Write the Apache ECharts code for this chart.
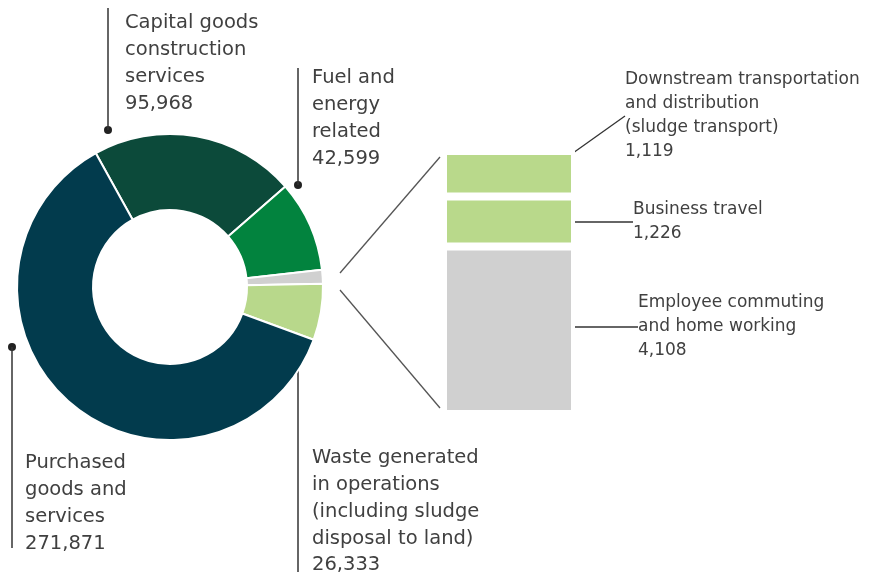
<!DOCTYPE html>
<html><head><meta charset="utf-8">
<script src="https://cdn.jsdelivr.net/npm/echarts@6/dist/echarts.min.js"></script>
<style>html,body{margin:0;padding:0;background:#fff}#c{width:873px;height:579px}</style>
</head><body><div id="c"></div>
<script>
// ---- data ----
const pieCategories = [
  'Capital goods\nconstruction\nservices',
  'Fuel and\nenergy\nrelated',
  'Other (breakdown on right)',
  'Waste generated\nin operations\n(including sludge\ndisposal to land)',
  'Purchased\ngoods and\nservices'
];
const pieValues = [95968, 42599, 6453, 26333, 271871];

const barCategories = [
  'Employee commuting\nand home working',
  'Business travel',
  'Downstream transportation\nand distribution\n(sludge transport)'
];
const barValues = [4108, 1226, 1119];

// ---- styles / layout ----
const pieColors = ['#0C4A3A', '#02833E', '#D0D0D0', '#B8D88B', '#023B4D'];
const barColors = ['#D0D0D0', '#B9D98B', '#B9D98B'];
const FONT = 'DejaVu Sans';
const TXT = '#404040';
const LINE = '#333333';
const CX = 170, CY = 287, R_IN = 77, R_OUT = 153;

// label placement: text x/y, leader line x, y from (dot) -> y to
const pieLab = {
  0: {tx: 125, ty: 10, lx: 108, y0: 130, y1: 8},
  1: {tx: 312, ty: 65, lx: 298, y0: 185, y1: 68},
  3: {tx: 312, ty: 445, lx: 298, y0: 325, y1: 572},
  4: {tx: 25, ty: 450, lx: 12, y0: 347, y1: 548}
};
const barLab = {
  2: {tx: 625, ty: 68, pts: [[573, 175], [611, 117], [620, 117]]},
  1: {tx: 633, ty: 198, pts: [[573, 221], [600, 221], [627, 221]]},
  0: {tx: 638, ty: 291, pts: [[573, 328], [600, 328], [632, 328]]}
};

const fmt = v => v.toLocaleString('en-US');
const barTotal = barValues.reduce((a, b) => a + b, 0);

const chart = echarts.init(document.getElementById('c'), null, {renderer: 'canvas'});

const barSeries = barValues.map((v, i) => ({
  type: 'bar',
  name: barCategories[i],
  stack: 'other',
  barWidth: 132,
  data: [v],
  silent: true,
  itemStyle: {color: barColors[i], borderColor: '#fff', borderWidth: 4},
  label: {
    show: true, position: 'right', overflow: 'none',
    formatter: () => barCategories[i] + '\n' + fmt(v),
    fontFamily: FONT, fontSize: 17, lineHeight: 24, color: TXT
  },
  labelLine: {show: true, lineStyle: {color: LINE, width: 1.3}},
  labelLayout: function () {
    const L = barLab[i];
    return {x: L.tx, y: L.ty, align: 'left', verticalAlign: 'top', labelLinePoints: L.pts};
  }
}));

chart.setOption({
  animation: false,
  backgroundColor: '#fff',
  grid: {left: 443, width: 132, top: 151, height: 263},
  xAxis: {type: 'category', data: ['Other'], show: false},
  yAxis: {type: 'value', min: 0, max: barTotal, show: false},
  series: [
    {
      type: 'pie',
      center: [CX, CY],
      radius: [R_IN, R_OUT],
      startAngle: 119,
      clockwise: true,
      silent: true,
      itemStyle: {borderColor: '#fff', borderWidth: 2},
      data: pieValues.map((v, i) => ({
        name: pieCategories[i], value: v,
        itemStyle: {color: pieColors[i]},
        label: {show: i !== 2},
        labelLine: {show: i !== 2}
      })),
      label: {
        show: true, position: 'outside', overflow: 'none', width: 300,
        formatter: p => p.name + '\n' + fmt(p.value),
        fontFamily: FONT, fontSize: 19.5, lineHeight: 26.7, color: TXT
      },
      labelLine: {show: true, lineStyle: {color: LINE, width: 1.5}},
      labelLayout: function (p) {
        const L = pieLab[p.dataIndex];
        if (!L) return {};
        return {x: L.tx, y: L.ty, align: 'left', verticalAlign: 'top',
          labelLinePoints: [[L.lx, L.y0], [L.lx, (L.y0 + L.y1) / 2], [L.lx, L.y1]]};
      }
    }
  ].concat(barSeries)
});

// connectors and dots
const topPx = chart.convertToPixel({gridIndex: 0}, [0, barTotal]);
const botPx = chart.convertToPixel({gridIndex: 0}, [0, 0]);
const barLeft = topPx[0] - 66;
const elements = [
  {type: 'line', silent: true, shape: {x1: CX + 170, y1: CY - 14, x2: barLeft - 3, y2: topPx[1] + 6},
    style: {stroke: '#555', lineWidth: 1.3}},
  {type: 'line', silent: true, shape: {x1: CX + 170, y1: CY + 3, x2: barLeft - 3, y2: botPx[1] - 6},
    style: {stroke: '#555', lineWidth: 1.3}}
];
Object.keys(pieLab).forEach(k => {
  const L = pieLab[k];
  elements.push({type: 'circle', silent: true, shape: {cx: L.lx, cy: L.y0, r: 4}, style: {fill: '#222'}});
});
chart.setOption({graphic: {elements: elements}});
</script></body></html>
